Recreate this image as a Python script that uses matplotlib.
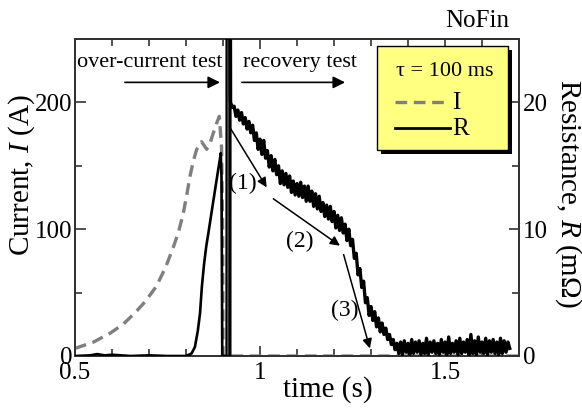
import numpy as np
import matplotlib
matplotlib.use("Agg")
import matplotlib.pyplot as plt
from matplotlib.patches import Rectangle
from matplotlib.lines import Line2D
from matplotlib.ticker import MultipleLocator

plt.rcParams['font.family'] = ['Liberation Serif', 'DejaVu Serif']
plt.rcParams['mathtext.fontset'] = 'custom'
plt.rcParams['mathtext.rm'] = 'Liberation Serif'
plt.rcParams['mathtext.it'] = 'Liberation Serif:italic'

# ---------------- data ----------------
# current I (A), over-current test
t_I = [0.5, 0.55, 0.595, 0.63, 0.662, 0.69, 0.72, 0.745, 0.766, 0.78, 0.793, 0.802,
       0.811, 0.82, 0.829, 0.842, 0.856, 0.865, 0.874, 0.882, 0.89, 0.896, 0.899,
       0.90, 1.0, 1.2, 1.4, 1.7]
I_vals = [6, 11, 18, 25, 34, 43, 55, 70, 86, 98, 113, 127,
          142, 154, 163, 169, 163, 168, 176, 183, 189, 165, 100,
          0, 0, 0, 0, 0]

# resistance R (mOhm), over-current part
t_R1 = [0.5, 0.54, 0.56, 0.58, 0.60, 0.65, 0.70, 0.75, 0.80, 0.815, 0.824, 0.832,
        0.838, 0.843, 0.849, 0.855, 0.860, 0.870, 0.878, 0.886, 0.892, 0.894,
        0.896, 0.898, 0.909]
R1_vals = [0.0, 0.05, 0.15, 0.05, 0.1, 0.0, 0.05, 0.0, 0.0, 0.2, 0.7, 2.0,
           3.4, 5.5, 7.3, 8.7, 9.6, 11.5, 13.0, 14.5, 15.6, 16.0,
           14.0, 0.0, 0.0]

# resistance: first off-scale spike at switching
t_spike = [0.909, 0.9097, 0.9100, 0.9185]
R_spike = [0.0, 40.0, 0.0, 0.0]

# resistance, start of recovery (spike up, then fast drop)
t_R2 = [0.9185, 0.9190, 0.9195, 0.9205, 0.925]
R2_vals = [0.0, 40.0, 38.0, 20.0, 19.6]

# resistance during recovery (0.930 s .. 1.370 s, 5 ms steps): base trend + read ripple
R_rec_base = [19.4, 19.2, 19.1, 18.9, 18.8, 18.6, 18.5, 18.3, 18.1, 17.9,
              17.6, 17.4, 17.1, 16.9, 16.7, 16.4, 16.2, 16.0, 15.7, 15.5,
              15.3, 15.1, 14.9, 14.7, 14.5, 14.3, 14.1, 14.0, 13.8, 13.7,
              13.5, 13.4, 13.3, 13.3, 13.2, 13.1, 13.1, 13.0, 12.9, 12.8,
              12.7, 12.6, 12.5, 12.4, 12.3, 12.1, 12.0, 11.9, 11.7, 11.6,
              11.4, 11.3, 11.2, 11.0, 10.9, 10.7, 10.6, 10.4, 10.2, 10.1,
              9.9, 9.7, 9.5, 9.2, 8.6, 8.1, 7.6, 7.0, 6.4, 5.9,
              5.3, 4.6, 4.1, 3.7, 3.4, 3.2, 3.0, 2.8, 2.6, 2.4,
              2.2, 2.0, 1.8, 1.6, 1.4, 1.2, 1.0, 0.8, 0.7]
R_rec_ripple = [0.3, -0.3, 0.3, -0.3, 0.4, -0.3, 0.3, -0.4, 0.4, -0.3,
                0.6, -0.4, 0.5, -0.6, 0.4, -0.5, 0.8, -0.4, 0.5, -0.6,
                0.5, -0.5, 0.6, -0.4, 0.5, -0.7, 0.5, -0.5, 0.6, -0.4,
                0.7, -0.5, 0.5, -0.6, 0.4, -0.5, 0.6, -0.5, 0.5, -0.6,
                0.7, -0.4, 0.5, -0.6, 0.5, -0.5, 0.6, -0.5, 0.4, -0.6,
                0.5, -0.5, 0.6, -0.4, 0.5, -0.6, 0.5, -0.5, 0.7, -0.4,
                0.5, -0.6, 0.5, -0.5, 0.6, -0.4, 0.5, -0.6, 0.5, -0.5,
                0.6, -0.4, 0.5, -0.5, 0.5, -0.4, 0.5, -0.5, 0.4, -0.5,
                0.4, -0.3, 0.4, -0.3, 0.3, -0.3, 0.3, -0.3, 0.3]
t_rec_start, t_rec_end = 0.930, 1.370

# resistance after recovery (1.375 s .. 1.675 s, 5 ms steps)
R_flat = [0.2, 1.1, 0.1, 1.2, 0.3, 1.0, 0.1, 1.3, 0.2, 1.1,
          0.3, 1.2, 0.1, 1.0, 0.2, 1.4, 0.1, 1.1, 0.3, 1.2,
          0.2, 1.0, 0.1, 1.3, 0.3, 1.1, 0.1, 1.5, 0.2, 1.0,
          0.3, 1.2, 0.1, 1.4, 0.2, 1.1, 0.3, 1.3, 0.1, 1.7,
          0.2, 1.2, 0.1, 1.5, 0.3, 1.1, 0.2, 1.4, 0.1, 1.2,
          0.3, 1.3, 0.2, 1.1, 0.1, 1.4, 0.2, 1.2, 0.3, 1.1, 0.6]
t_flat_start, t_flat_end = 1.375, 1.675

x_ticks = [0.5, 1.0, 1.5]
x_ticklabels = ['0.5', '1', '1.5']
yI_ticks = [0, 100, 200]
yR_ticks = [0, 10, 20]

# ---------------- figure ----------------
W, H = 582, 409
fig = plt.figure(figsize=(W / 100, H / 100), dpi=100)
L, R_, T, B = 75, 519, 39, 356
ax = fig.add_axes([L / W, 1 - B / H, (R_ - L) / W, (B - T) / H])
ax2 = ax.twinx()

t_rec = np.linspace(t_rec_start, t_rec_end, len(R_rec_base))
R_rec = np.array(R_rec_base) + np.array(R_rec_ripple)
t_fl = np.linspace(t_flat_start, t_flat_end, len(R_flat))
t_R3 = np.concatenate([t_R2, t_rec, t_fl])
R3 = np.concatenate([R2_vals, R_rec, R_flat])

gray = '#7f7f7f'
ax.plot(t_I, I_vals, color=gray, lw=2.4, dashes=(3.5, 2.0), zorder=3)
ax2.plot(t_R1, R1_vals, color='black', lw=1.9, zorder=4)
ax2.plot(t_spike, R_spike, color='black', lw=1.2, zorder=4)
ax2.plot(t_R3, R3, color='black', lw=2.4, zorder=4)

ax.set_xlim(0.5, 1.7)
ax.set_ylim(0, 250)
ax2.set_ylim(0, 25)

spc = '#333333'
for a in (ax, ax2):
    for s in a.spines.values():
        s.set_color(spc)
        s.set_linewidth(1.4)

ax.set_xticks(x_ticks)
ax.set_xticklabels(x_ticklabels)
ax.xaxis.set_minor_locator(MultipleLocator(0.1))
ax.set_yticks(yI_ticks)
ax.yaxis.set_minor_locator(MultipleLocator(50))
ax2.set_yticks(yR_ticks)
ax2.yaxis.set_minor_locator(MultipleLocator(5))

ax.tick_params(axis='x', which='both', direction='in', top=True, bottom=True,
               color=spc, width=1.2, labelsize=18, pad=4)
ax.tick_params(axis='x', which='major', length=7)
ax.tick_params(axis='x', which='minor', length=5)
ax.tick_params(axis='y', which='both', direction='in', left=True, right=False,
               color=spc, width=1.2, labelsize=18, pad=2)
ax.tick_params(axis='y', which='major', length=8)
ax.tick_params(axis='y', which='minor', length=5)
ax2.tick_params(axis='y', which='both', direction='in', right=True, left=False,
                color=spc, width=1.2, labelsize=18, pad=3)
ax2.tick_params(axis='y', which='major', length=7)
ax2.tick_params(axis='y', which='minor', length=5)

# axis labels
fig.text(22 / W, 1 - 175 / H, 'Current, $\\mathit{I}$ (A)', rotation=90,
         ha='center', va='center', fontsize=21)
fig.text(568 / W, 1 - 193 / H, 'Resistance, $\\mathit{R}$ (m\u03a9)', rotation=270,
         ha='center', va='center', fontsize=21)
fig.text(328 / W, 1 - 390 / H, 'time (s)', ha='center', va='center', fontsize=21)
fig.text(509 / W, 1 - 21 / H, 'NoFin', ha='right', va='center', fontsize=18)

# top annotations
ax.text(0.703, 231.6, 'over-current test', ha='center', va='center', fontsize=16)
ax.text(0.954, 231.6, 'recovery test', ha='left', va='center', fontsize=16)
aprops = dict(arrowstyle='-|>', color='black', lw=1.2, mutation_scale=18,
              shrinkA=0, shrinkB=0)
ax.annotate('', xy=(0.892, 215.8), xytext=(0.635, 215.8), arrowprops=aprops)
ax.annotate('', xy=(1.23, 215.8), xytext=(0.951, 215.8), arrowprops=aprops)

# slope arrows
sprops = dict(arrowstyle='-|>', color='black', lw=1.1, mutation_scale=14,
              shrinkA=0, shrinkB=0)
ax2.annotate('', xy=(1.018, 13.3), xytext=(0.917, 18.1), arrowprops=sprops)
ax2.annotate('', xy=(1.216, 8.7), xytext=(1.036, 12.4), arrowprops=sprops)
ax2.annotate('', xy=(1.297, 0.6), xytext=(1.226, 8.0), arrowprops=sprops)
ax2.text(0.954, 13.6, '(1)', ha='center', va='center', fontsize=17)
ax2.text(1.108, 9.0, '(2)', ha='center', va='center', fontsize=17)
ax2.text(1.230, 3.6, '(3)', ha='center', va='center', fontsize=17)

# legend box (manual, figure pixel coordinates)
def fx(x):
    return x / W

def fy(y):
    return 1 - y / H

bx0, by0, bx1, by1 = 377, 46, 508, 150
fig.patches.append(Rectangle((fx(bx0 + 4), fy(by1 + 4)), fx(bx1 - bx0), (by1 - by0) / H,
                             transform=fig.transFigure, facecolor='black',
                             edgecolor='none', zorder=10))
fig.patches.append(Rectangle((fx(bx0), fy(by1)), fx(bx1 - bx0), (by1 - by0) / H,
                             transform=fig.transFigure, facecolor='#ffff80',
                             edgecolor='black', lw=1.0, zorder=11))
fig.text(fx(445), fy(71), '\u03c4 = 100 ms', ha='center', va='center', fontsize=16, zorder=12)
fig.lines.append(Line2D([fx(395), fx(450)], [fy(102), fy(102)], transform=fig.transFigure,
                        color=gray, lw=2.4, dashes=(3.5, 2.0), zorder=12))
fig.lines.append(Line2D([fx(395), fx(450)], [fy(128), fy(128)], transform=fig.transFigure,
                        color='black', lw=2.0, zorder=12))
fig.text(fx(452), fy(103), 'I', ha='left', va='center', fontsize=18, zorder=12)
fig.text(fx(452), fy(129), 'R', ha='left', va='center', fontsize=18, zorder=12)

fig.savefig('out.png', dpi=100)
